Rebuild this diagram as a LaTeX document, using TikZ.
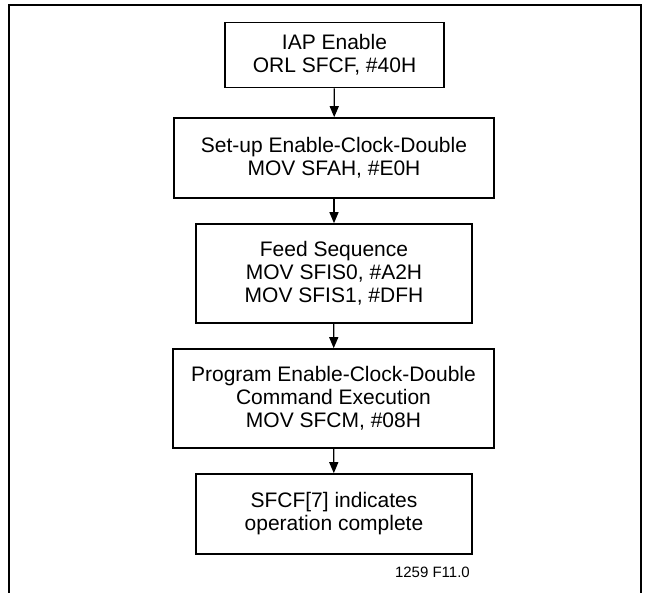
\documentclass[tikz,border=0pt]{standalone}
\usepackage{fontspec}
\setmainfont{Liberation Sans}
\usetikzlibrary{arrows.meta}
\begin{document}
\begin{tikzpicture}[x=1pt,y=-1pt,
  box/.style={draw,line width=1.6pt,inner sep=0pt,align=center,
    font=\fontsize{21}{23}\selectfont},
  arr/.style={line width=1.3pt,-{Triangle[length=11pt,width=9pt]}}]
\useasboundingbox (0,0) rectangle (650,593);
\draw[line width=2.4pt] (9,593) -- (9,5) -- (641,5) -- (641,593);
\node[box,minimum width=219pt,minimum height=65pt] (b1) at (334.5,55) {IAP Enable\\ORL SFCF, \#40H};
\node[box,minimum width=320pt,minimum height=80pt] (b2) at (334,158) {Set-up Enable-Clock-Double\\MOV SFAH, \#E0H};
\node[box,minimum width=276pt,minimum height=99pt] (b3) at (334,273.5) {Feed Sequence\\MOV SFIS0, \#A2H\\MOV SFIS1, \#DFH};
\node[box,minimum width=321pt,minimum height=99pt] (b4) at (333.5,398.5) {Program Enable-Clock-Double\\Command Execution\\MOV SFCM, \#08H};
\node[box,minimum width=276pt,minimum height=80pt] (b5) at (334,514) {SFCF[7] indicates\\operation complete};
\node[anchor=base east,inner sep=0pt,font=\fontsize{15}{17}\selectfont] (lbl) at (470,577) {1259 F11.0};
\draw[arr] (b1) -- (b2);
\draw[arr] (b2) -- (b3);
\draw[arr] (b3) -- (b4);
\draw[arr] (b4) -- (b5);
\end{tikzpicture}
\end{document}
